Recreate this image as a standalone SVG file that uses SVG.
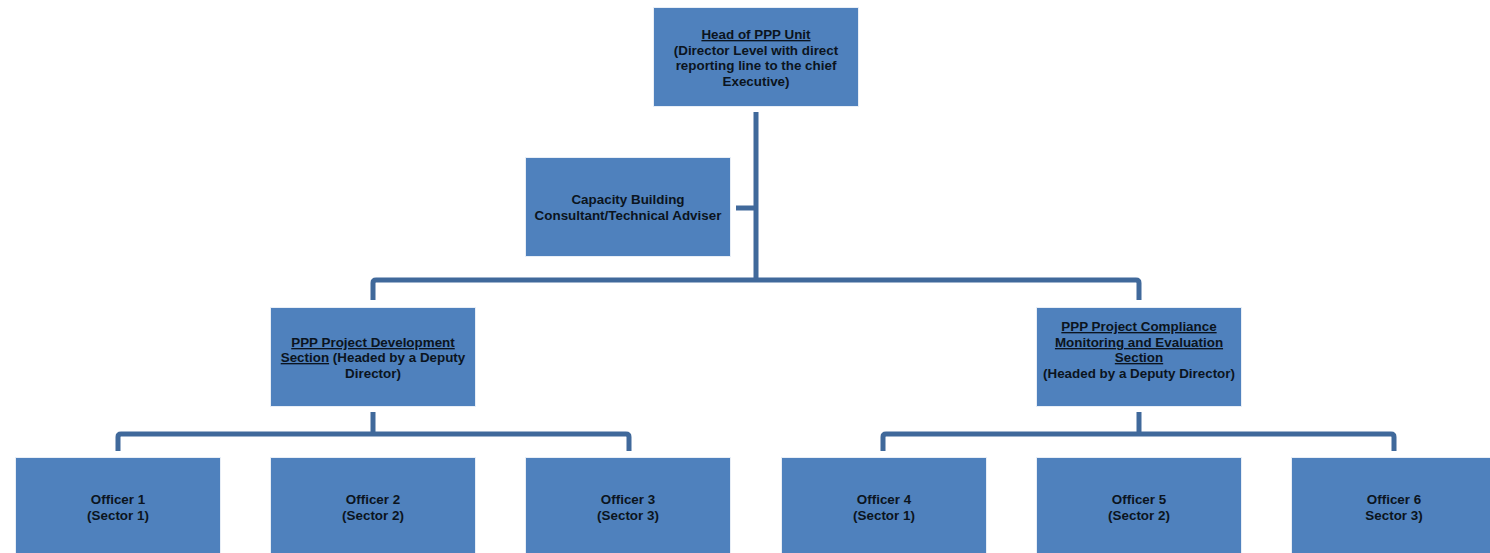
<svg xmlns="http://www.w3.org/2000/svg" width="1490" height="553" viewBox="0 0 1490 553">
<style>
.box{fill:#4F81BD;stroke:#E8EEF6;stroke-width:1}
.t{font-family:"Liberation Sans",Arial,sans-serif;font-weight:bold;font-size:13.4px;fill:#0B1420;text-anchor:middle}
.u{text-decoration:underline}
.c{fill:none;stroke:#40699B;stroke-width:5;stroke-linejoin:round;stroke-linecap:butt}
</style>
<rect width="1490" height="553" fill="#FFFFFF"/>
<g id="connectors">
<path class="c" d="M756 112 V280"/>
<path class="c" d="M736 208 H756"/>
<path class="c" d="M373 300 V283 Q373 280 376 280 H1136 Q1139 280 1139 283 V300"/>
<path class="c" d="M373 412 V434"/>
<path class="c" d="M118 451 V437 Q118 434 121 434 H626 Q629 434 629 437 V451"/>
<path class="c" d="M1139 412 V434"/>
<path class="c" d="M883 451 V437 Q883 434 886 434 H1391 Q1394 434 1394 437 V451"/>
</g>
<g id="head">
<rect class="box" x="653.5" y="7.5" width="205" height="99"/>
<text class="t" x="756" y="39"><tspan class="u">Head of PPP Unit</tspan></text>
<text class="t" x="756" y="55">(Director Level with direct</text>
<text class="t" x="756" y="70">reporting line to the chief</text>
<text class="t" x="756" y="86">Executive)</text>
</g>
<g id="capacity">
<rect class="box" x="525.5" y="157.5" width="205" height="99"/>
<text class="t" x="628" y="204">Capacity Building</text>
<text class="t" x="628" y="220">Consultant/Technical Adviser</text>
</g>
<g id="development">
<rect class="box" x="270.5" y="307.5" width="205" height="99"/>
<text class="t" x="373" y="347"><tspan class="u">PPP Project Development</tspan></text>
<text class="t" x="373" y="362"><tspan class="u">Section</tspan> (Headed by a Deputy</text>
<text class="t" x="373" y="378">Director)</text>
</g>
<g id="compliance">
<rect class="box" x="1036.5" y="307.5" width="205" height="99"/>
<text class="t" x="1139" y="331"><tspan class="u">PPP Project Compliance</tspan></text>
<text class="t" x="1139" y="347"><tspan class="u">Monitoring and Evaluation</tspan></text>
<text class="t" x="1139" y="362"><tspan class="u">Section</tspan></text>
<text class="t" x="1139" y="378">(Headed by a Deputy Director)</text>
</g>
<g id="officer1">
<rect class="box" x="15.5" y="457.5" width="205" height="99"/>
<text class="t" x="118" y="504">Officer 1</text>
<text class="t" x="118" y="520">(Sector 1)</text>
</g>
<g id="officer2">
<rect class="box" x="270.5" y="457.5" width="205" height="99"/>
<text class="t" x="373" y="504">Officer 2</text>
<text class="t" x="373" y="520">(Sector 2)</text>
</g>
<g id="officer3">
<rect class="box" x="525.5" y="457.5" width="205" height="99"/>
<text class="t" x="628" y="504">Officer 3</text>
<text class="t" x="628" y="520">(Sector 3)</text>
</g>
<g id="officer4">
<rect class="box" x="781.5" y="457.5" width="205" height="99"/>
<text class="t" x="884" y="504">Officer 4</text>
<text class="t" x="884" y="520">(Sector 1)</text>
</g>
<g id="officer5">
<rect class="box" x="1036.5" y="457.5" width="205" height="99"/>
<text class="t" x="1139" y="504">Officer 5</text>
<text class="t" x="1139" y="520">(Sector 2)</text>
</g>
<g id="officer6">
<rect class="box" x="1291.5" y="457.5" width="205" height="99"/>
<text class="t" x="1394" y="504">Officer 6</text>
<text class="t" x="1394" y="520">Sector 3)</text>
</g>
</svg>
